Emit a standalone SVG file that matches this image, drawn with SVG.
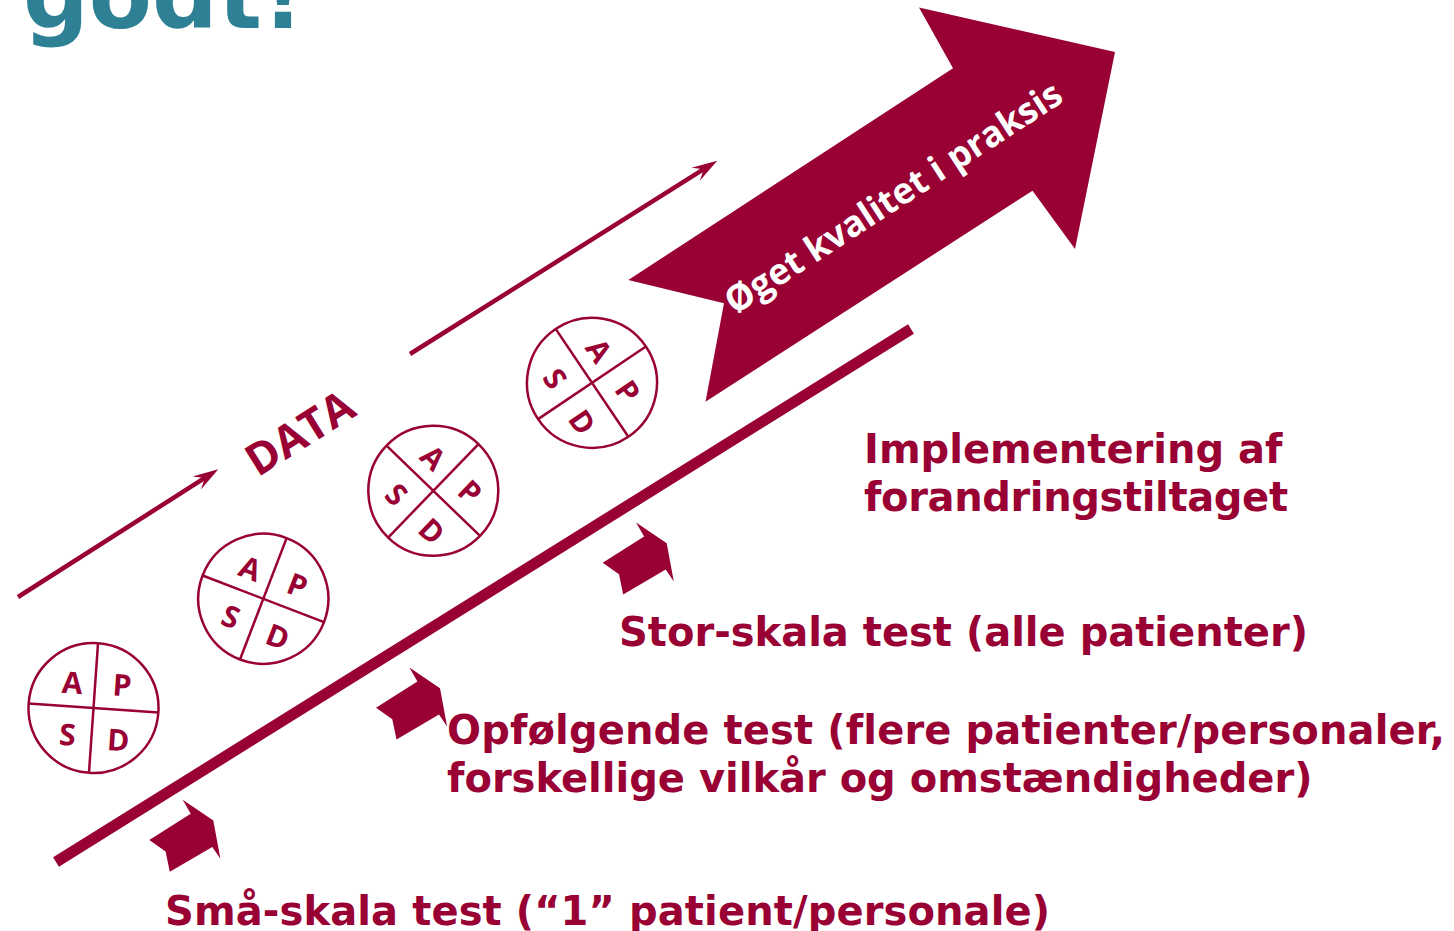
<svg xmlns="http://www.w3.org/2000/svg" width="1454" height="931" viewBox="0 0 1454 931">
  <defs>
    <style>
      .lbl { font-family: "DejaVu Sans", Verdana, sans-serif; font-weight: bold; font-size: 40px; fill: #990033; font-variant-ligatures: none; }
      .ring { fill: #ffffff; stroke: #990033; stroke-width: 2.5; }
      .div { stroke: #990033; stroke-width: 2.5; }
      .ltr { font-family: "Open Sans", "Liberation Sans", sans-serif; font-weight: 700; font-size: 30px; fill: #990033; text-anchor: middle; }
      .red { fill: #990033; }
      .dline { stroke: #990033; stroke-width: 4.5; fill: none; marker-end: url(#ah); }
    </style>
    <marker id="ah" markerUnits="userSpaceOnUse" orient="auto" refX="0" refY="0" markerWidth="40" markerHeight="30" overflow="visible">
      <path d="M16,0 L-9.5,-7.8 L0,0 L-9.5,7.8 Z" fill="#990033"/>
    </marker>
    <path id="smallArrow" d="M0,0 L41.4,-26.3 L33.4,-40.2 L64,-19.4 L71.1,18.8 L63,6.9 L20.5,31.8 L16.3,11.5 Z"/>
    <g id="pdsa">
      <circle class="ring" cx="0" cy="0" r="65"/>
      <line class="div" x1="-65" y1="0" x2="65" y2="0"/>
      <line class="div" x1="0" y1="-65" x2="0" y2="65"/>
      <text class="ltr" x="-23" y="-13">A</text>
      <text class="ltr" x="27" y="-14">P</text>
      <text class="ltr" x="-24" y="39">S</text>
      <text class="ltr" x="27" y="41">D</text>
    </g>
  </defs>

  <g id="title">
    <text x="23" y="28" font-family="DejaVu Sans, Verdana, sans-serif" font-weight="bold" font-size="92" fill="#2E8094">godt!</text>
  </g>

  <g id="baseline-bar">
    <line x1="56" y1="862" x2="911" y2="329" stroke="#990033" stroke-width="11"/>
  </g>

  <g id="connectors">
    <line class="dline" x1="18" y1="597" x2="204.8" y2="477.9"/>
    <line class="dline" x1="410" y1="354" x2="703.7" y2="169.2"/>
  </g>

  <g id="data-label">
    <text x="308" y="446" transform="rotate(-32 308 446)" font-family="Open Sans, Liberation Sans, sans-serif" font-weight="bold" font-size="44" fill="#990033" text-anchor="middle">DATA</text>
  </g>

  <g id="big-arrow">
    <path class="red" d="M628.3,280 L953,68.3 L919,7.5 L1115,52 L1075,249 L1032.5,190.7 L705.5,401.7 L724,303.3 Z"/>
    <text x="900" y="208" transform="rotate(-33 900 208)" font-family="Open Sans, Liberation Sans, sans-serif" font-weight="700" font-size="36" fill="#ffffff" text-anchor="middle">Øget kvalitet i praksis</text>
  </g>

  <g id="pdsa-1"><use href="#pdsa" transform="translate(93.5 708) rotate(4)"/></g>
  <g id="pdsa-2"><use href="#pdsa" transform="translate(263.3 598.8) rotate(21)"/></g>
  <g id="pdsa-3"><use href="#pdsa" transform="translate(433.3 490.8) rotate(44)"/></g>
  <g id="pdsa-4"><use href="#pdsa" transform="translate(592 382.8) rotate(56)"/></g>

  <g id="step-arrow-1"><use href="#smallArrow" class="red" transform="translate(149.3 840)"/></g>
  <g id="step-arrow-2"><use href="#smallArrow" class="red" transform="translate(376 707.7)"/></g>
  <g id="step-arrow-3"><use href="#smallArrow" class="red" transform="translate(602.7 562.7)"/></g>

  <g id="label-implementering">
    <text class="lbl" x="864" y="463">Implementering af</text>
    <text class="lbl" x="864" y="511" textLength="424">forandringstiltaget</text>
  </g>
  <g id="label-stor">
    <text class="lbl" x="619" y="646">Stor-skala test (alle patienter)</text>
  </g>
  <g id="label-opfolgende">
    <text class="lbl" x="447" y="744" textLength="998">Opfølgende test (flere patienter/personaler,</text>
    <text class="lbl" x="447" y="792">forskellige vilkår og omstændigheder)</text>
  </g>
  <g id="label-smaa">
    <text class="lbl" x="165" y="925" textLength="885">Små-skala test (“1” patient/personale)</text>
  </g>
</svg>
